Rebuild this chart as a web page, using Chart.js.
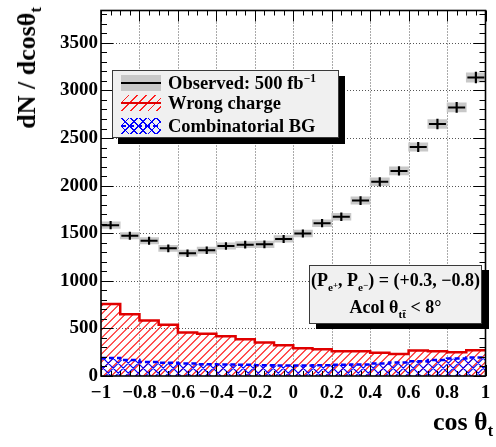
<!DOCTYPE html>
<html>
<head>
<meta charset="utf-8">
<script src="https://cdn.jsdelivr.net/npm/chart.js@4.4.1/dist/chart.umd.min.js"></script>
<style>
  html, body { margin: 0; padding: 0; background: #fff; }
  #wrap { position: relative; width: 496px; height: 447px; overflow: hidden;
          font-family: "Liberation Serif", "DejaVu Serif", serif; font-weight: bold; color: #000; }
  #wrap canvas { position: absolute; left: 0; top: 0; }
  .box { position: absolute; box-sizing: border-box; background: #f0f0f0; border: 1.5px solid #3a3a3a; }
  .row { position: absolute; left: 8px; height: 22px; display: flex; align-items: center; font-size: 18.5px; white-space: nowrap; }
  .sw { position: relative; width: 40px; height: 16px; margin-right: 7px; }
  .sw .ln { position: absolute; left: 0; right: 0; top: 7px; height: 2px; }
  .ytitle { position: absolute; left: 27px; top: 68px; font-size: 26px; line-height: 30px; white-space: nowrap;
            transform: translate(-50%, -50%) rotate(-90deg); }
  .xtitle { position: absolute; right: 3px; top: 407px; font-size: 26px; line-height: 30px; white-space: nowrap; }
  sub, sup { font-size: 62%; line-height: 0; }
  .tiny { font-size: 80%; position: relative; top: -3px; }
</style>
</head>
<body>
<div id="wrap">
  <canvas id="c" width="496" height="447"></canvas>

  <div class="ytitle">dN / dcosθ<sub>t</sub></div>
  <div class="xtitle">cos θ<sub>t</sub></div>

  <div class="box" style="left:112px; top:70px; width:227px; height:68px; box-shadow: 6px 6px 0 #000;">
    <div class="row" style="top:1px;">
      <div class="sw" style="background:#c8c8c8;"><div class="ln" style="background:#000;"></div></div>
      <span>Observed: 500 fb<sup>−1</sup></span>
    </div>
    <div class="row" style="top:21px;">
      <div class="sw" style="background: repeating-linear-gradient(135deg, transparent 0 5px, #ff2020 5px 6.2px);">
        <div class="ln" style="background:#e00000;"></div></div>
      <span>Wrong charge</span>
    </div>
    <div class="row" style="top:44px;">
      <div class="sw" style="background: repeating-linear-gradient(45deg, transparent 0 5px, #0000ff 5px 6.2px), repeating-linear-gradient(135deg, transparent 0 5px, #0000ff 5px 6.2px);">
        <div class="ln" style="background: repeating-linear-gradient(90deg, #0000ff 0 5px, transparent 5px 8px);"></div></div>
      <span>Combinatorial BG</span>
    </div>
  </div>

  <div class="box" style="left:309px; top:265px; width:173px; height:59px; box-shadow: 7px 5px 0 #000; text-align:center; font-size:18px; white-space:nowrap;">
    <div style="margin-top:1px; line-height:26px;">(P<sub>e<span class="tiny">+</span></sub>, P<sub>e<span class="tiny">−</span></sub>) = (+0.3, −0.8)</div>
    <div style="line-height:28px;">Acol θ<sub>tt̄</sub> &lt; 8°</div>
  </div>
</div>

<script>
// bin edges and centres of cos(theta_t), 20 bins
const binEdges = [-1, -0.9, -0.8, -0.7, -0.6, -0.5, -0.4, -0.3, -0.2, -0.1, 0,
                  0.1, 0.2, 0.3, 0.4, 0.5, 0.6, 0.7, 0.8, 0.9, 1];
const binCenters = [-0.95, -0.85, -0.75, -0.65, -0.55, -0.45, -0.35, -0.25, -0.15, -0.05,
                    0.05, 0.15, 0.25, 0.35, 0.45, 0.55, 0.65, 0.75, 0.85, 0.95];
const xTicks = [-1, -0.8, -0.6, -0.4, -0.2, 0, 0.2, 0.4, 0.6, 0.8, 1];
const yTicks = [0, 500, 1000, 1500, 2000, 2500, 3000, 3500];

// observed events, 500 fb-1
const observed = [1585, 1473, 1421, 1341, 1290, 1321, 1366, 1380, 1383, 1440,
                  1497, 1605, 1673, 1843, 2040, 2155, 2407, 2648, 2822, 3136];
const statErr = [40, 38, 38, 37, 36, 36, 37, 37, 37, 38,
                 39, 40, 41, 43, 45, 46, 49, 51, 53, 56];
const sysErr = [35, 34, 34, 33, 32, 33, 33, 33, 34, 34,
                35, 36, 37, 39, 41, 42, 44, 46, 48, 50];

// backgrounds
const wrongCharge = [757, 650, 584, 538, 458, 445, 418, 386, 353, 324,
                     292, 280, 259, 259, 245, 230, 268, 259, 250, 270];
const combBG = [190, 168, 147, 138, 131, 124, 120, 117, 114, 111,
                111, 114, 117, 121, 131, 142, 155, 168, 183, 195];

const stepData = vals => binEdges.map((e, i) => ({ x: e, y: vals[Math.min(i, vals.length - 1)] }));

const fmt = v => {
    const r = Math.round(v * 10) / 10;
    return (r < 0 ? '\u2212' : '') + Math.abs(r);
};

// hatched fill under a stepped histogram, clipped to the histogram outline
const hatchFill = {
    id: 'hatchFill',
    beforeDatasetDraw(chart, args) {
        const ds = chart.data.datasets[args.index];
        if (!ds.hatch) return;
        const { ctx, chartArea: a } = chart;
        const pts = args.meta.data;
        const base = chart.scales.y.getPixelForValue(0);
        ctx.save();
        ctx.beginPath();
        ctx.moveTo(pts[0].x, base);
        pts.forEach((p, i) => {
            if (i > 0) ctx.lineTo(p.x, pts[i - 1].y);
            ctx.lineTo(p.x, p.y);
        });
        ctx.lineTo(pts[pts.length - 1].x, base);
        ctx.closePath();
        ctx.clip();
        ctx.strokeStyle = ds.hatch.color;
        ctx.lineWidth = ds.hatch.width;
        ctx.beginPath();
        const h = a.bottom - a.top;
        for (let x0 = a.left - h; x0 < a.right + h; x0 += ds.hatch.step) {
            if (ds.hatch.dirs.includes('/')) { ctx.moveTo(x0, a.bottom); ctx.lineTo(x0 + h, a.top); }
            if (ds.hatch.dirs.includes('\\')) { ctx.moveTo(x0, a.top); ctx.lineTo(x0 + h, a.bottom); }
        }
        ctx.stroke();
        ctx.restore();
    }
};

// ROOT style frame: dotted grid, frame, inner ticks on all four sides
const rootFrame = {
    id: 'rootFrame',
    beforeDatasetsDraw(chart) {
        const { ctx, chartArea: a, scales: { x, y } } = chart;
        ctx.save();
        ctx.strokeStyle = '#555';
        ctx.lineWidth = 1;
        ctx.setLineDash([1, 2]);
        ctx.beginPath();
        x.ticks.forEach(t => {
            if (t.value <= x.min || t.value >= x.max) return;
            const px = Math.round(x.getPixelForValue(t.value)) + 0.5;
            ctx.moveTo(px, a.top); ctx.lineTo(px, a.bottom);
        });
        y.ticks.forEach(t => {
            if (t.value <= y.min || t.value >= y.max) return;
            const py = Math.round(y.getPixelForValue(t.value)) + 0.5;
            ctx.moveTo(a.left, py); ctx.lineTo(a.right, py);
        });
        ctx.stroke();
        ctx.restore();
    },
    afterDraw(chart) {
        const { ctx, chartArea: a, scales: { x, y } } = chart;
        ctx.save();
        ctx.strokeStyle = '#000';
        ctx.lineWidth = 1;
        ctx.beginPath();
        for (let k = 0; k <= 40; k++) {
            const px = Math.round(x.getPixelForValue(-1 + k * 0.05)) + 0.5;
            const len = k % 4 === 0 ? 11 : 5;
            ctx.moveTo(px, a.bottom); ctx.lineTo(px, a.bottom - len);
            ctx.moveTo(px, a.top); ctx.lineTo(px, a.top + len);
        }
        for (let k = 0; k * 100 <= y.max; k++) {
            const py = Math.round(y.getPixelForValue(k * 100)) + 0.5;
            const len = k % 5 === 0 ? 12 : 6;
            ctx.moveTo(a.left, py); ctx.lineTo(a.left + len, py);
            ctx.moveTo(a.right, py); ctx.lineTo(a.right - len, py);
        }
        ctx.stroke();
        ctx.lineWidth = 1.6;
        ctx.strokeRect(a.left, a.top, a.right - a.left, a.bottom - a.top);
        ctx.restore();
    }
};

new Chart(document.getElementById('c'), {
    type: 'line',
    data: {
        datasets: [
            {
                type: 'scatter',
                data: binCenters.map((c, i) => ({ x: c, y: observed[i] })),
                pointStyle: 'line',
                pointRadius: 8.5,
                pointBorderWidth: 2,
                borderColor: '#000',
                order: 0
            },
            {
                type: 'bar',
                data: binCenters.map((c, i) => ({ x: c, y: [observed[i] - statErr[i], observed[i] + statErr[i]] })),
                backgroundColor: '#000',
                barThickness: 1.5,
                grouped: false,
                order: 1
            },
            {
                type: 'bar',
                data: binCenters.map((c, i) => ({ x: c, y: [observed[i] - sysErr[i], observed[i] + sysErr[i]] })),
                backgroundColor: '#c8c8c8',
                barPercentage: 1,
                categoryPercentage: 1,
                grouped: false,
                order: 2
            },
            {
                data: stepData(combBG),
                stepped: true,
                fill: false,
                hatch: { color: '#0000ff', width: 1.1, step: 10, dirs: '/\\' },
                borderColor: '#0000ff',
                borderWidth: 2.5,
                borderDash: [5, 3],
                pointRadius: 0,
                order: 3
            },
            {
                data: stepData(wrongCharge),
                stepped: true,
                fill: false,
                hatch: { color: '#ff1a1a', width: 1.1, step: 8, dirs: '/' },
                borderColor: '#e00000',
                borderWidth: 2.5,
                pointRadius: 0,
                order: 4
            }
        ]
    },
    options: {
        responsive: false,
        animation: false,
        layout: { padding: { top: 6, right: 3, left: 0, bottom: 0 } },
        plugins: { legend: { display: false }, tooltip: { enabled: false } },
        scales: {
            x: {
                type: 'linear',
                min: -1,
                max: 1,
                offset: false,
                grid: { display: false, offset: false, drawTicks: false },
                border: { display: false },
                afterBuildTicks(s) { s.ticks = xTicks.map(v => ({ value: v })); },
                ticks: {
                    autoSkip: false,
                    maxRotation: 0,
                    padding: 6,
                    color: '#000',
                    font: { family: 'Liberation Serif', weight: 'bold', size: 19 },
                    callback: v => fmt(v)
                },
                afterFit(s) { s.height = 71; s.paddingLeft = 0; s.paddingRight = 0; }
            },
            y: {
                type: 'linear',
                min: 0,
                max: 3840,
                grid: { display: false, drawTicks: false },
                border: { display: false },
                afterBuildTicks(s) { s.ticks = yTicks.map(v => ({ value: v })); },
                ticks: {
                    autoSkip: false,
                    padding: 3,
                    color: '#000',
                    font: { family: 'Liberation Serif', weight: 'bold', size: 19 },
                    callback: v => String(v)
                },
                afterFit(s) { s.width = 101; s.paddingTop = 0; s.paddingBottom = 0; }
            }
        }
    },
    plugins: [hatchFill, rootFrame]
});
</script>
</body>
</html>
